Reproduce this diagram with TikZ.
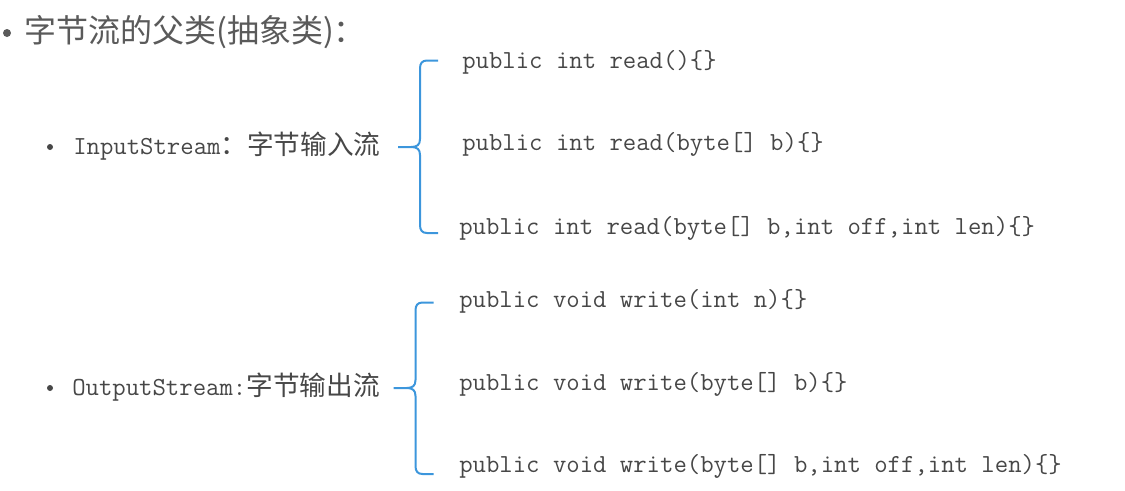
\documentclass[tikz,border=0pt]{standalone}
\usepackage{fontspec}
\newfontfamily\cjk{Noto Sans CJK SC}
\definecolor{bracecol}{HTML}{3C96DC}
\definecolor{textgray}{HTML}{474747}
\definecolor{titlegray}{HTML}{5A5A5A}

\newcommand{\leftbrace}[4]% stem x, top y, tip y, bottom y
    {(#1+18,#2) -- (#1+7,#2) .. controls (#1+2,#2) and (#1,#2+3) .. (#1,#2+8)
     -- (#1,#3-8) .. controls (#1,#3-2) and (#1-3,#3) .. (#1-9,#3) -- (#1-22,#3)
     (#1-9,#3) .. controls (#1-3,#3) and (#1,#3+2) .. (#1,#3+8)
     -- (#1,#4-8) .. controls (#1,#4-3) and (#1+2,#4) .. (#1+7,#4) -- (#1+18,#4)
}

\begin{document}
\begin{tikzpicture}[
    x=0.75pt, y=-0.75pt,
    titletext/.style={anchor=west, inner sep=0pt, text=titlegray,
        font=\cjk\fontsize{24}{28}\selectfont},
    streamtext/.style={anchor=base west, inner sep=0pt, text=textgray,
        font=\ttfamily\fontsize{19.5}{23}\selectfont},
    codetext/.style={anchor=base west, inner sep=0pt, text=textgray,
        font=\ttfamily\fontsize{19.5}{23}\selectfont},
    bigdot/.style={circle, fill=titlegray, inner sep=0pt, minimum size=6pt},
    smalldot/.style={circle, fill=textgray, inner sep=0pt, minimum size=4.5pt},
    brace/.style={draw=bracecol, line width=1.5pt}
]
    \useasboundingbox (0,0) rectangle (1125,490);

    % Title
    \node[bigdot] (tdot) at (7,33) {};
    \node[titletext] (title) at (24,32) {字节流的父类(抽象类)：};

    % Input stream
    \node[smalldot] (idot) at (50,147) {};
    \node[streamtext] (input) at (73,154) {InputStream{\cjk\fontsize{20}{24}\selectfont ：字节输入流}};
    \draw[brace] \leftbrace{420}{60.5}{147}{233};
    \node[codetext] (read1) at (462,68)  {public int read()\{\}};
    \node[codetext] (read2) at (462,150) {public int read(byte[] b)\{\}};
    \node[codetext] (read3) at (459,234) {public int read(byte[] b,int off,int len)\{\}};

    % Output stream
    \node[smalldot] (odot) at (50,388) {};
    \node[streamtext] (output) at (72,395) {OutputStream:{\cjk\fontsize{20}{24}\selectfont 字节输出流}};
    \draw[brace] \leftbrace{415.5}{302.5}{388}{474};
    \node[codetext] (write1) at (459,307) {public void write(int n)\{\}};
    \node[codetext] (write2) at (459,390) {public void write(byte[] b)\{\}};
    \node[codetext] (write3) at (459,472) {public void write(byte[] b,int off,int len)\{\}};

\end{tikzpicture}
\end{document}
